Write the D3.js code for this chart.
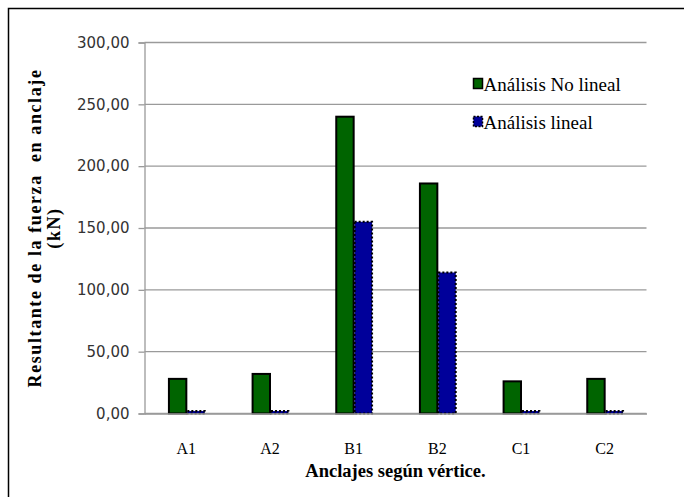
<!DOCTYPE html>
<html>
<head>
<meta charset="utf-8">
<script src="https://cdn.jsdelivr.net/npm/d3@7"></script>
<style>
  html, body { margin: 0; padding: 0; background: #fff; }
  svg { display: block; }
</style>
</head>
<body>
<svg id="chart" width="684" height="497"></svg>
<script>
// Anchor force per vertex, two analysis types (kN)
const categories = ["A1", "A2", "B1", "B2", "C1", "C2"];
const seriesNames = ["Análisis No lineal", "Análisis lineal"];
const noLineal = [28, 32, 240, 186, 26, 28];
const lineal = [2, 2, 155, 114, 2, 2];
const yTicks = [0, 50, 100, 150, 200, 250, 300];

const SERIF = "'Liberation Serif', 'Times New Roman', serif";
const SANS = "'DejaVu Sans', sans-serif";

const svg = d3.select("#chart");
const W = 684, H = 497;
const margin = { left: 144.5, right: W - 646.5, top: 42.5, bottom: H - 413.5 };
const innerW = W - margin.left - margin.right;
const innerH = H - margin.top - margin.bottom;

// outer chart frame
svg.append("rect")
  .attr("x", 8.5).attr("y", 8.5)
  .attr("width", W + 10).attr("height", H + 10)
  .attr("fill", "#fff").attr("stroke", "#000").attr("stroke-width", 1.5);

const g = svg.append("g").attr("transform", `translate(${margin.left},${margin.top})`);

const x = d3.scaleBand().domain(categories).range([0, innerW]).paddingInner(0.56).paddingOuter(0.28);
const xs = d3.scaleBand().domain(seriesNames).range([0, x.bandwidth()]);
const y = d3.scaleLinear().domain([0, 300]).range([innerH, 0]);

const fmt = v => d3.format(".2f")(v).replace(".", ",");

// value axis
const yAxis = d3.axisLeft(y).tickValues(yTicks).tickSize(6).tickPadding(9).tickFormat(fmt);
const ya = g.append("g").call(yAxis);
ya.select(".domain").attr("stroke", "#9a9a9a").attr("stroke-width", 1.3);
ya.selectAll(".tick line").attr("stroke", "#9a9a9a").attr("stroke-width", 1.3);
ya.selectAll(".tick text").style("font-family", SANS).style("font-size", "15px").attr("fill", "#333");

// horizontal gridlines
g.append("g").selectAll("line").data(yTicks).join("line")
  .attr("x1", 0).attr("x2", innerW)
  .attr("y1", d => y(d)).attr("y2", d => y(d))
  .attr("stroke", "#9a9a9a").attr("stroke-width", 1.3);

// bars
const colors = ["#006400", "#00009a"];
const rows = categories.map((c, i) => ({ cat: c, vals: [noLineal[i], lineal[i]] }));
const grp = g.selectAll(".grp").data(rows).join("g").attr("class", "grp")
  .attr("transform", d => `translate(${x(d.cat)},0)`);

grp.append("rect")
  .attr("x", xs(seriesNames[0]) + 1).attr("width", xs.bandwidth() - 1)
  .attr("y", d => y(d.vals[0])).attr("height", d => y(0) - y(d.vals[0]))
  .attr("fill", colors[0]).attr("stroke", "#000").attr("stroke-width", 2);

grp.append("rect")
  .attr("x", xs(seriesNames[1]) + 1).attr("width", xs.bandwidth() - 1)
  .attr("y", d => y(d.vals[1])).attr("height", d => y(0) - y(d.vals[1]))
  .attr("fill", colors[1]).attr("stroke", "#000").attr("stroke-width", 2)
  .attr("stroke-dasharray", "2,2");

// category axis
const xAxis = d3.axisBottom(x).tickSize(0).tickPadding(29);
const xa = g.append("g").attr("transform", `translate(0,${innerH})`).call(xAxis);
xa.select(".domain").attr("stroke", "#9a9a9a").attr("stroke-width", 1.3);
xa.selectAll(".tick text").style("font-family", SERIF).style("font-size", "16px").attr("fill", "#000");

// axis titles
svg.append("text")
  .attr("x", margin.left + innerW / 2).attr("y", 477)
  .attr("text-anchor", "middle")
  .style("font-family", SERIF).style("font-weight", "bold").style("font-size", "18.5px")
  .text("Anclajes según vértice.");

const yt = svg.append("text")
  .attr("transform", `translate(41,228) rotate(-90)`)
  .attr("text-anchor", "middle")
  .style("font-family", SERIF).style("font-weight", "bold").style("font-size", "18px")
  .style("letter-spacing", "1.6px").style("white-space", "pre");
yt.append("tspan").attr("x", 0).attr("y", 0).text("Resultante de la fuerza  en anclaje");
yt.append("tspan").attr("x", 0).attr("y", 19).text("(kN)");

// legend
const lg = svg.append("g").attr("transform", "translate(473,78)");
const items = lg.selectAll("g").data(seriesNames).join("g")
  .attr("transform", (d, i) => `translate(0,${i * 38})`);
items.append("rect").attr("x", 0.5).attr("y", 0.5).attr("width", 9).attr("height", 10)
  .attr("fill", (d, i) => colors[i]).attr("stroke", "#000").attr("stroke-width", 1.5)
  .attr("stroke-dasharray", (d, i) => i ? "2,1.5" : null);
items.append("text").attr("x", 10.5).attr("y", 12.5)
  .style("font-family", SERIF).style("font-size", "19px").text(d => d);
</script>
</body>
</html>
